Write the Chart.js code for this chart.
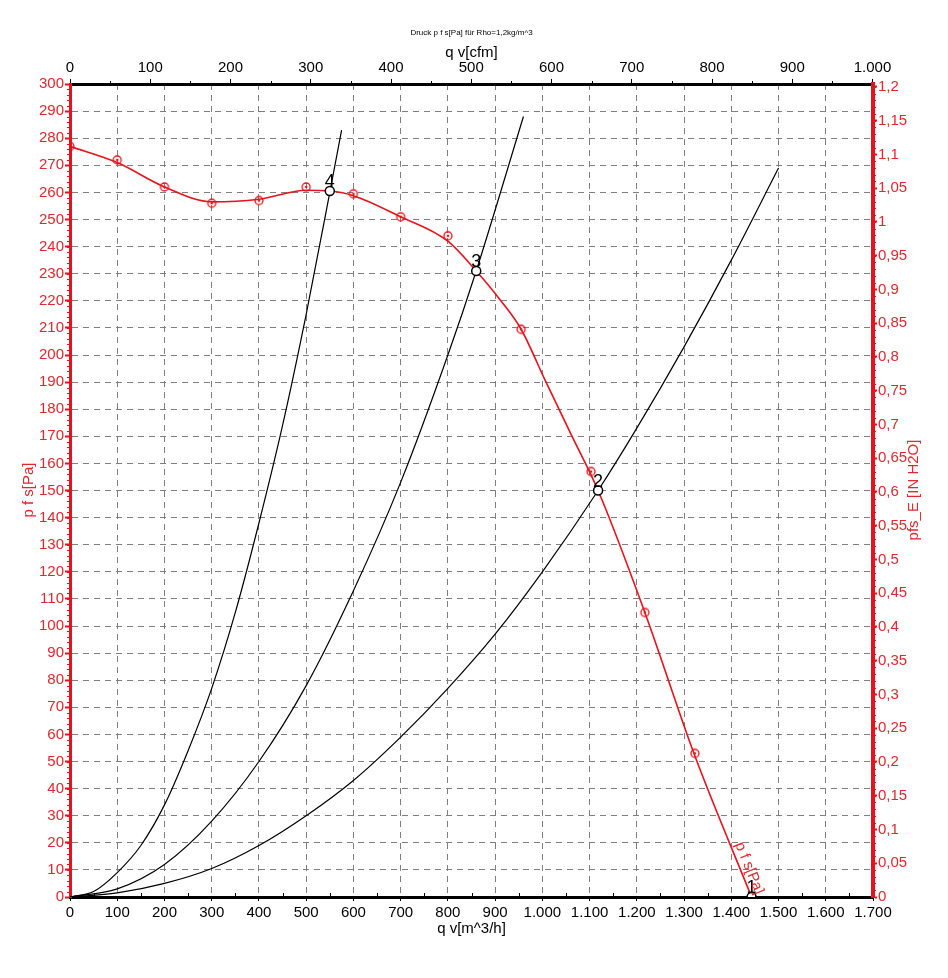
<!DOCTYPE html>
<html>
<head>
<meta charset="utf-8">
<script src="https://cdn.jsdelivr.net/npm/chart.js@4/dist/chart.umd.min.js"></script>
<style>
  html, body { margin: 0; padding: 0; background: #fff; }
  #chart { display: block; }
</style>
</head>
<body>
<canvas id="chart" width="948" height="978"></canvas>
<script>
// fan curve p f s [Pa] over q v [m^3/h]
const fanQ = [0, 100, 200, 300, 400, 500, 550, 600, 700, 800, 860, 910, 955, 1005, 1060, 1118, 1217, 1323, 1443];
const fanP = [277, 271, 262, 256.5, 257.5, 260.8, 260.5, 258.8, 251, 242, 231, 220.5, 209.5, 191, 171, 150, 105, 52, 0];

// measured points (red ring markers)
const measQ = [0, 100, 200, 300, 400, 500, 600, 700, 800, 955, 1103, 1217, 1323];
const measP = [277, 272, 262, 256, 257, 262, 259.5, 251, 244, 209.5, 157, 105, 53];

// system curves
const sys4Q = [0, 50, 100, 150, 200, 250, 300, 350, 400, 450, 500, 550, 575];
const sys4P = [0, 2, 9, 19, 34, 54, 77, 105, 138, 174, 215, 260, 283];
const sys3Q = [0, 100, 200, 300, 400, 500, 600, 700, 800, 860, 960];
const sys3P = [0, 3, 12, 28, 50, 78, 113, 153, 200, 231, 288];
const sys2Q = [0, 100, 200, 300, 400, 500, 600, 700, 800, 900, 1000, 1118, 1200, 1300, 1400, 1500];
const sys2P = [0, 1.5, 5, 10.5, 19, 30, 43, 59, 77, 97, 120, 150, 173, 203, 235, 269];

// operating points
const opQ = [1443, 1118, 860, 550];
const opP = [0, 150, 231, 260.5];
const opLabels = ['1', '2', '3', '4'];

// ticks
const qTicks = [0, 100, 200, 300, 400, 500, 600, 700, 800, 900, 1000, 1100, 1200, 1300, 1400, 1500, 1600, 1700];
const cfmTicks = [0, 100, 200, 300, 400, 500, 600, 700, 800, 900, 1000];
const inH2oTicks = [0, 0.05, 0.1, 0.15, 0.2, 0.25, 0.3, 0.35, 0.4, 0.45, 0.5, 0.55, 0.6, 0.65, 0.7,
                    0.75, 0.8, 0.85, 0.9, 0.95, 1, 1.05, 1.1, 1.15, 1.2];

const M3H_PER_CFM = 1.69901;
const PA_PER_INH2O = 249.0889;
const Q_MAX = 1700;
const P_MAX = 300;

const red = '#e8121c';
const redText = '#e0282e';
const font = '"Liberation Sans", Arial, sans-serif';
Chart.defaults.font.family = font;

const pts = (xs, ys) => xs.map((x, i) => ({ x: x, y: ys[i] }));
const thousands = v => String(Math.round(v)).replace(/\B(?=(\d{3})+(?!\d))/g, '.');
const decimal = v => String(+(+v).toFixed(2)).replace('.', ',');

function ringDot(color) {
  const c = document.createElement('canvas');
  c.width = 12; c.height = 12;
  const g = c.getContext('2d');
  g.strokeStyle = color; g.lineWidth = 1.3;
  g.beginPath(); g.arc(6, 6, 4, 0, Math.PI * 2); g.stroke();
  g.fillStyle = color;
  g.beginPath(); g.arc(6, 6, 1.3, 0, Math.PI * 2); g.fill();
  return c;
}

// titles, minor ticks, point labels
const decor = {
  id: 'decor',
  afterDraw(chart) {
    const { ctx, chartArea: a, scales } = chart;
    const cx = (a.left + a.right) / 2;
    ctx.save();
    ctx.textAlign = 'center';
    ctx.textBaseline = 'middle';
    ctx.fillStyle = '#000';
    ctx.font = '8px ' + font;
    ctx.fillText('Druck p f s[Pa] für Rho=1,2kg/m^3', cx, 33);
    ctx.font = '15px ' + font;
    ctx.fillText('q v[cfm]', cx, 53);
    ctx.fillText('q v[m^3/h]', cx, 929);

    ctx.fillStyle = redText;
    ctx.save();
    ctx.translate(29, 490);
    ctx.rotate(-Math.PI / 2);
    ctx.fillText('p f s[Pa]', 0, 0);
    ctx.restore();
    ctx.save();
    ctx.translate(914, 490);
    ctx.rotate(-Math.PI / 2);
    ctx.fillText('pfs_E [IN H2O]', 0, 0);
    ctx.restore();

    // minor ticks
    ctx.lineWidth = 1;
    ctx.strokeStyle = red;
    ctx.beginPath();
    for (let p = 0; p <= P_MAX; p += 2) {
      const y = Math.round(scales.y.getPixelForValue(p)) + 0.5;
      ctx.moveTo(a.left - 3, y); ctx.lineTo(a.left, y);
    }
    for (let h = 0; h <= 1.2001; h += 0.01) {
      const y = Math.round(scales.y2.getPixelForValue(h)) + 0.5;
      ctx.moveTo(a.right, y); ctx.lineTo(a.right + 3, y);
    }
    ctx.stroke();
    ctx.strokeStyle = '#000';
    ctx.beginPath();
    for (let q = 50; q < Q_MAX; q += 100) {
      const x = Math.round(scales.x.getPixelForValue(q)) + 0.5;
      ctx.moveTo(x, a.bottom); ctx.lineTo(x, a.bottom - 4);
    }
    for (let c = 50; c < 1000; c += 100) {
      const x = Math.round(scales.x2.getPixelForValue(c)) + 0.5;
      ctx.moveTo(x, a.top); ctx.lineTo(x, a.top - 3);
    }
    ctx.stroke();

    // operating point numbers
    const opMeta = chart.getDatasetMeta(5);
    ctx.fillStyle = '#000';
    ctx.font = '18px ' + font;
    ctx.textBaseline = 'alphabetic';
    opMeta.data.forEach((el, i) => {
      ctx.fillText(opLabels[i], el.x, el.y - 4);
    });

    // curve label along the end of the fan curve
    const fan = chart.getDatasetMeta(0).data;
    const p1 = fan[fan.length - 2], p2 = fan[fan.length - 1];
    const ang = Math.atan2(p2.y - p1.y, p2.x - p1.x);
    ctx.save();
    ctx.translate(p2.x, p2.y);
    ctx.rotate(ang);
    ctx.fillStyle = redText;
    ctx.font = '15px ' + font;
    ctx.textAlign = 'right';
    ctx.textBaseline = 'bottom';
    ctx.fillText('p f s[Pa]', 0, -1);
    ctx.restore();
    ctx.restore();
  }
};

new Chart(document.getElementById('chart'), {
  type: 'line',
  data: {
    datasets: [
      { data: pts(fanQ, fanP), borderColor: red, borderWidth: 1.6, pointRadius: 0,
        cubicInterpolationMode: 'monotone', order: 2 },
      { data: pts(measQ, measP), showLine: false, pointStyle: ringDot(red), pointRadius: 5, order: 1 },
      { data: pts(sys4Q, sys4P), borderColor: '#000', borderWidth: 1.2, pointRadius: 0,
        cubicInterpolationMode: 'monotone', order: 3 },
      { data: pts(sys3Q, sys3P), borderColor: '#000', borderWidth: 1.2, pointRadius: 0,
        cubicInterpolationMode: 'monotone', order: 3 },
      { data: pts(sys2Q, sys2P), borderColor: '#000', borderWidth: 1.2, pointRadius: 0,
        cubicInterpolationMode: 'monotone', order: 3 },
      { data: pts(opQ, opP), showLine: false, pointRadius: 4.5, pointBorderWidth: 1.5,
        pointBackgroundColor: '#fff', pointBorderColor: '#000', order: 0 }
    ]
  },
  options: {
    responsive: false,
    animation: false,
    layout: { padding: 0 },
    plugins: { legend: { display: false }, tooltip: { enabled: false } },
    scales: {
      x: {
        type: 'linear', position: 'bottom', min: 0, max: Q_MAX,
        afterBuildTicks: s => { s.ticks = qTicks.map(v => ({ value: v })); },
        afterFit: s => { s.height = 81; },
        ticks: { color: '#000', font: { size: 15 }, padding: 3, autoSkip: false, maxRotation: 0,
                 callback: v => thousands(v) },
        grid: { color: '#7f7f7f', lineWidth: 1, tickLength: 4, tickColor: '#000' },
        border: { color: '#000', width: 3, dash: [6, 5] }
      },
      x2: {
        type: 'linear', position: 'top', min: 0, max: Q_MAX / M3H_PER_CFM,
        afterBuildTicks: s => { s.ticks = cfmTicks.map(v => ({ value: v })); },
        afterFit: s => { s.height = 84; },
        ticks: { color: '#000', font: { size: 15 }, padding: 2, autoSkip: false, maxRotation: 0,
                 callback: v => thousands(v) },
        grid: { drawOnChartArea: false, tickLength: 5, tickColor: '#000' },
        border: { color: '#000', width: 3 }
      },
      y: {
        type: 'linear', position: 'left', min: 0, max: P_MAX,
        ticks: { stepSize: 10, color: redText, font: { size: 15 }, padding: 1, autoSkip: false },
        afterFit: s => { s.width = 70; },
        grid: { color: '#7f7f7f', lineWidth: 1, tickLength: 5, tickColor: red, tickWidth: 2 },
        border: { color: red, width: 3, dash: [6, 5] }
      },
      y2: {
        type: 'linear', position: 'right', min: 0, max: P_MAX / PA_PER_INH2O,
        afterBuildTicks: s => { s.ticks = inH2oTicks.map(v => ({ value: v })); },
        afterFit: s => { s.width = 75; },
        ticks: { color: redText, font: { size: 15 }, padding: 1, autoSkip: false,
                 callback: v => decimal(v) },
        grid: { drawOnChartArea: false, tickLength: 4, tickColor: red, tickWidth: 2 },
        border: { color: red, width: 4 }
      }
    }
  },
  plugins: [decor]
});
</script>
</body>
</html>
